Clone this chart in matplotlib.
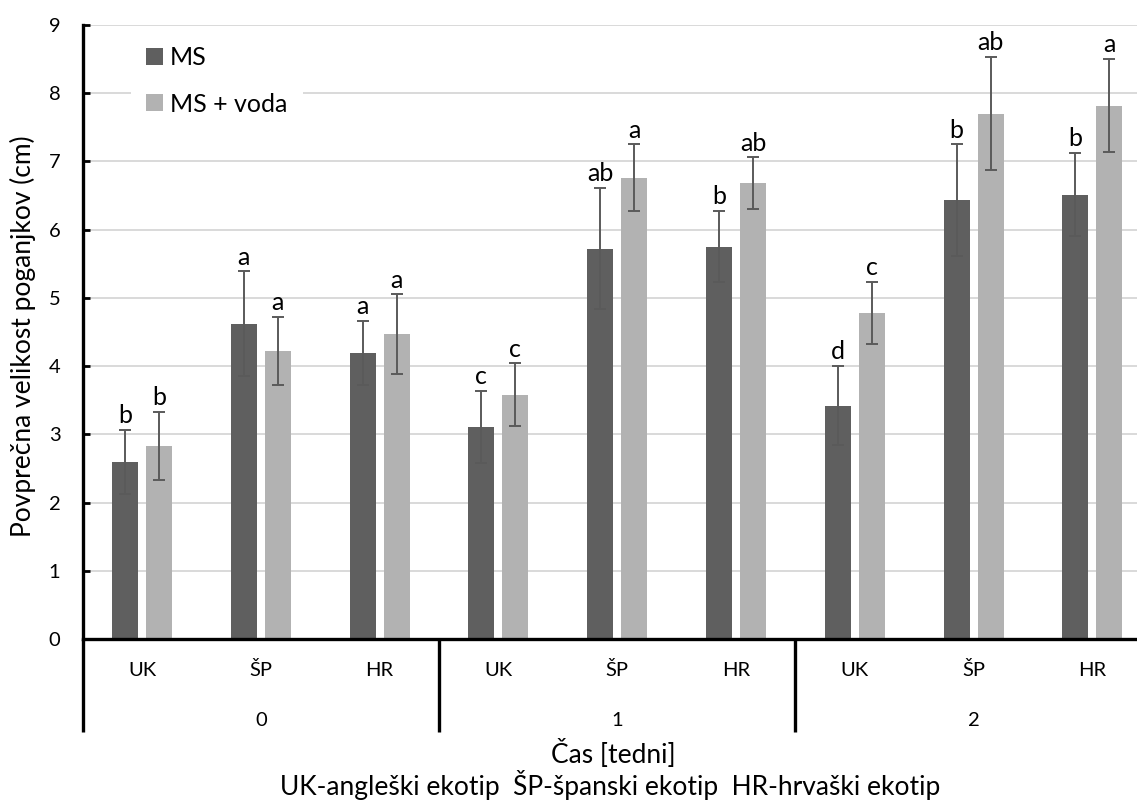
import matplotlib
matplotlib.use("Agg")
import matplotlib.pyplot as plt
import matplotlib.transforms as mtransforms
import numpy as np

plt.rcParams['font.family'] = ['Lato', 'DejaVu Sans']

groups = ["0", "1", "2"]
ecotypes = ["UK", "ŠP", "HR"]
series_names = ["MS", "MS + voda"]

ms_values = [2.60, 4.62, 4.19, 3.11, 5.72, 5.75, 3.42, 6.43, 6.51]
ms_err = [0.47, 0.77, 0.47, 0.53, 0.89, 0.52, 0.58, 0.82, 0.61]
ms_letters = ["b", "a", "a", "c", "ab", "b", "d", "b", "b"]

voda_values = [2.83, 4.22, 4.47, 3.58, 6.76, 6.68, 4.78, 7.70, 7.82]
voda_err = [0.50, 0.50, 0.58, 0.46, 0.49, 0.38, 0.46, 0.83, 0.68]
voda_letters = ["b", "a", "a", "c", "a", "ab", "c", "ab", "a"]

yticks = list(range(0, 10))

W, H = 1137, 805
fig = plt.figure(figsize=(W / 100, H / 100), dpi=100)
ax_l, ax_r, ax_t, ax_b = 82.6, 1151.8, 25, 639
ax = fig.add_axes([ax_l / W, 1 - ax_b / H, (ax_r - ax_l) / W, (ax_b - ax_t) / H])

c_ms = "#5f5f5f"
c_voda = "#b2b2b2"
err_c = "#5a5a5a"

x = np.arange(len(ms_values))
off = 0.143
bw = 0.219

ax.bar(x - off, ms_values, bw, color=c_ms, label=series_names[0], zorder=2)
ax.bar(x + off, voda_values, bw, color=c_voda, label=series_names[1], zorder=2)
ax.errorbar(x - off, ms_values, yerr=ms_err, fmt='none', ecolor=err_c,
            elinewidth=1.4, capsize=4.2, capthick=1.4, zorder=3)
ax.errorbar(x + off, voda_values, yerr=voda_err, fmt='none', ecolor=err_c,
            elinewidth=1.4, capsize=4.2, capthick=1.4, zorder=3)

for xi, v, e, l in zip(x - off, ms_values, ms_err, ms_letters):
    ax.annotate(l, (xi, v + e), xytext=(0, 2), textcoords='offset points',
                ha='center', va='bottom', fontsize=18, color='black')
for xi, v, e, l in zip(x + off, voda_values, voda_err, voda_letters):
    ax.annotate(l, (xi, v + e), xytext=(0, 2), textcoords='offset points',
                ha='center', va='bottom', fontsize=18, color='black')

ax.set_xlim(-0.5, len(ms_values) - 0.5)
ax.set_ylim(0, 9)
ax.set_yticks(yticks)
ax.set_yticklabels([str(t) for t in yticks], fontsize=14.5)
ax.tick_params(axis='y', direction='in', length=5, width=2.0, pad=16)
ax.set_xticks([])
ax.grid(axis='y', color='#d9d9d9', linewidth=1.4, zorder=0)
ax.set_axisbelow(True)
for s in ['top', 'right']:
    ax.spines[s].set_visible(False)
ax.spines['left'].set_linewidth(2.4)
ax.spines['bottom'].set_linewidth(2.4)

trans = mtransforms.blended_transform_factory(ax.transData, ax.transAxes)
axh = ax_b - ax_t
for i, xi in enumerate(x):
    ax.text(xi, -(670 - ax_b) / axh, ecotypes[i % 3], transform=trans,
            ha='center', va='center', fontsize=14.5)
for g, name in enumerate(groups):
    ax.text(g * 3 + 1, -(720 - ax_b) / axh, name, transform=trans,
            ha='center', va='center', fontsize=14.5)
for sx in [-0.5, 2.5, 5.5]:
    ax.plot([sx, sx], [0, -(732 - ax_b) / axh], transform=trans, color='black',
            lw=2.4, clip_on=False, solid_capstyle='butt')

fig.text(23 / W, 1 - 336 / H, "Povprečna velikost poganjkov (cm)", rotation=90,
         ha='center', va='center', fontsize=19)
fig.text(613 / W, 1 - 763 / H, "Čas [tedni]", ha='center', va='baseline', fontsize=19)
fig.text(610 / W, 1 - 795 / H, "UK-angleški ekotip  ŠP-španski ekotip  HR-hrvaški ekotip",
         ha='center', va='baseline', fontsize=19)

leg = ax.legend(loc='upper left',
                bbox_to_anchor=((131 - ax_l) / (ax_r - ax_l), 1 - (31 - ax_t) / axh),
                fontsize=18, frameon=True, fancybox=False, framealpha=1,
                edgecolor='none', facecolor='white', handlelength=0.67,
                handleheight=0.67, handletextpad=0.3, labelspacing=0.95,
                borderpad=0.6, borderaxespad=0)

fig.savefig("out.png", dpi=100)
